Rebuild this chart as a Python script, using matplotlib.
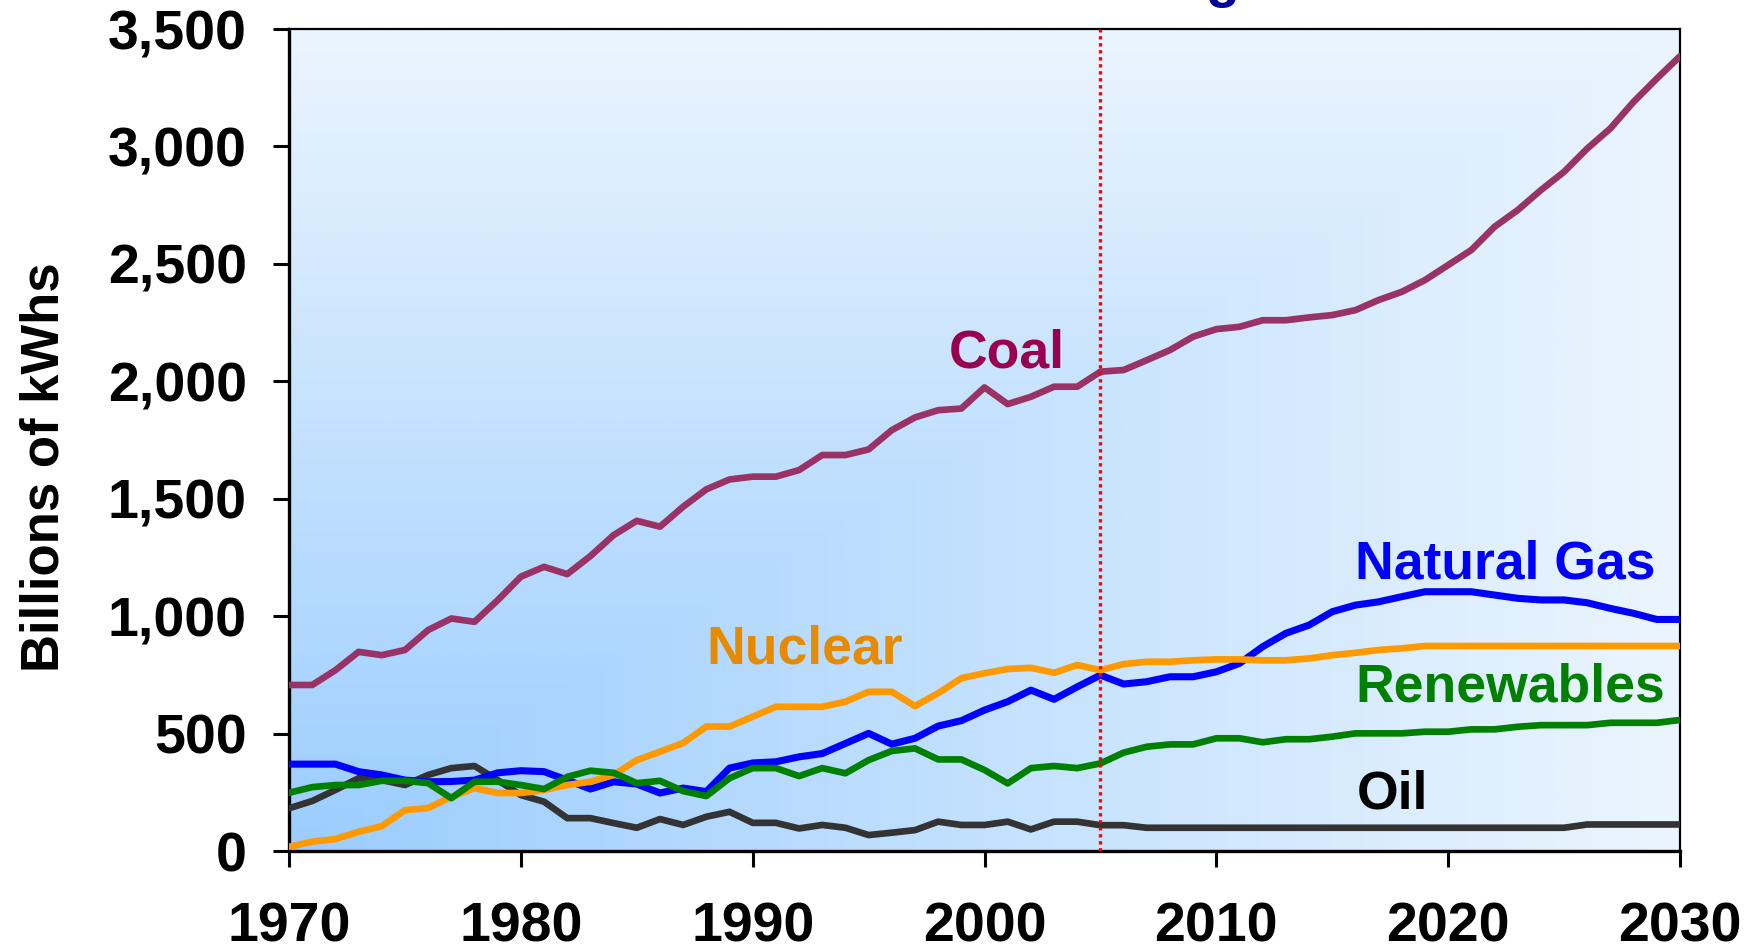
import numpy as np
import matplotlib.pyplot as plt
from matplotlib.colors import LinearSegmentedColormap
from matplotlib.ticker import FuncFormatter

plt.rcParams['font.family'] = ['Liberation Sans', 'DejaVu Sans']
plt.rcParams['font.weight'] = 'bold'

years = list(range(1970, 2031))

coal = [707, 707, 770, 848, 834, 856, 941, 990, 976, 1068,
        1168, 1210, 1179, 1256, 1345, 1406, 1381, 1466, 1540, 1582,
        1594, 1594, 1622, 1686, 1686, 1710, 1792, 1846, 1877, 1884,
        1974, 1903, 1934, 1977, 1977, 2041, 2048, 2090, 2133, 2190,
        2222, 2232, 2260, 2260, 2272, 2282, 2303, 2346, 2381, 2431,
        2495, 2559, 2658, 2729, 2814, 2892, 2991, 3077, 3190, 3289,
        3384]

natural_gas = [370, 370, 370, 338, 324, 302, 295, 296, 302, 333,
               342, 338, 302, 264, 295, 285, 247, 268, 253, 353,
               375, 380, 401, 415, 458, 501, 455, 480, 532, 555,
               600, 636, 685, 646, 699, 749, 711, 721, 742, 742,
               763, 799, 870, 927, 962, 1019, 1047, 1061, 1083, 1104,
               1104, 1104, 1090, 1076, 1069, 1069, 1057, 1033, 1012, 986,
               986]

nuclear = [18, 40, 51, 82, 106, 174, 183, 231, 268, 247,
           247, 260, 281, 295, 324, 387, 423, 460, 530, 530,
           572, 614, 614, 614, 636, 678, 678, 617, 672, 736,
           757, 775, 780, 759, 792, 770, 796, 806, 806, 812,
           816, 816, 812, 812, 820, 834, 844, 856, 863, 873,
           873, 873, 873, 873, 873, 873, 873, 873, 873, 873,
           873]

renewables = [248, 272, 281, 281, 299, 299, 289, 225, 295, 295,
              281, 264, 316, 342, 333, 289, 299, 255, 234, 310,
              353, 353, 319, 353, 331, 387, 426, 437, 390, 390,
              345, 288, 353, 362, 353, 373, 419, 444, 454, 454,
              480, 480, 463, 476, 476, 487, 501, 501, 501, 508,
              508, 518, 518, 529, 536, 536, 536, 546, 546, 546,
              558]

oil = [182, 213, 260, 310, 302, 281, 324, 353, 362, 302,
       238, 210, 140, 140, 119, 99, 136, 111, 146, 167,
       120, 120, 96, 111, 99, 68, 78, 89, 125, 111,
       111, 125, 92, 125, 125, 110, 110, 99, 99, 99,
       99, 99, 99, 99, 99, 99, 99, 99, 99, 99,
       99, 99, 99, 99, 99, 99, 113, 113, 113, 113,
       113]

projection_start = 2005
x_ticks = [1970, 1980, 1990, 2000, 2010, 2020, 2030]
y_ticks = [0, 500, 1000, 1500, 2000, 2500, 3000, 3500]

fig = plt.figure(figsize=(17.54, 9.48), dpi=100)
ax = fig.add_axes([0.1648, 0.1023, 0.793, 0.8671])

# corner gradient background (darker blue in the lower-left corner)
gx, gy = np.meshgrid(np.linspace(0, 1, 400), np.linspace(0, 1, 300))
t = np.maximum(gx, gy)
cmap = LinearSegmentedColormap.from_list('bg', ['#9bcdfe', '#ebf5fe'])
ax.imshow(t, cmap=cmap, origin='lower', aspect='auto',
          extent=[1970, 2030, 0, 3500], zorder=0, vmin=0, vmax=1)

lw = 4.8
ax.plot(years, coal, color='#993366', lw=lw, zorder=3, solid_capstyle='round')
ax.plot(years, oil, color='#333333', lw=lw, zorder=3, solid_capstyle='round')
ax.plot(years, natural_gas, color='#0000ff', lw=lw + 0.3, zorder=3, solid_capstyle='round')
ax.plot(years, nuclear, color='#ff9900', lw=lw, zorder=3, solid_capstyle='round')
ax.plot(years, renewables, color='#008000', lw=lw, zorder=3, solid_capstyle='round')

ax.axvline(projection_start, color='#ff0000', lw=2.4, linestyle=(0, (1, 1.1)), zorder=4)

lab = dict(fontsize=38.5, fontweight='bold', ha='left', va='center')
ax.text(1998.45, 2120, 'Coal', color='#990050', **lab)
ax.text(1988.0, 860, 'Nuclear', color='#e68a00', **lab)
ax.text(2016.0, 1220, 'Natural Gas', color='#0000ff', **lab)
ax.text(2016.0, 695, 'Renewables', color='#008000', **lab)
ax.text(2016.05, 240, 'Oil', color='#000000', **lab)

ax.set_xlim(1970, 2030)
ax.set_ylim(0, 3500)
ax.set_xticks(x_ticks)
ax.set_yticks(y_ticks)
ax.yaxis.set_major_formatter(FuncFormatter(lambda v, p: f'{int(v):,}'))
ax.tick_params(axis='both', direction='out', length=11.5, width=2.2,
               labelsize=40, colors='black')
ax.tick_params(axis='y', pad=19)
ax.tick_params(axis='x', pad=25)
for lbl in ax.get_xticklabels() + ax.get_yticklabels():
    lbl.set_fontweight('bold')

ax.spines['left'].set_linewidth(2.4)
ax.spines['bottom'].set_linewidth(2.4)
ax.spines['top'].set_linewidth(1.6)
ax.spines['right'].set_linewidth(1.6)

fig.text(45 / 1754, 1 - 467 / 948, 'Billions of kWhs', rotation=90,
         fontsize=38, fontweight='bold', ha='center', va='center')

# title sits above the canvas, only a descender shows
fig.text(1223 / 1754, 1 + 3.5 / 948, 'g', color='#000099', fontsize=40,
         fontweight='bold', ha='center', va='baseline')

plt.savefig('out.png', dpi=100)
